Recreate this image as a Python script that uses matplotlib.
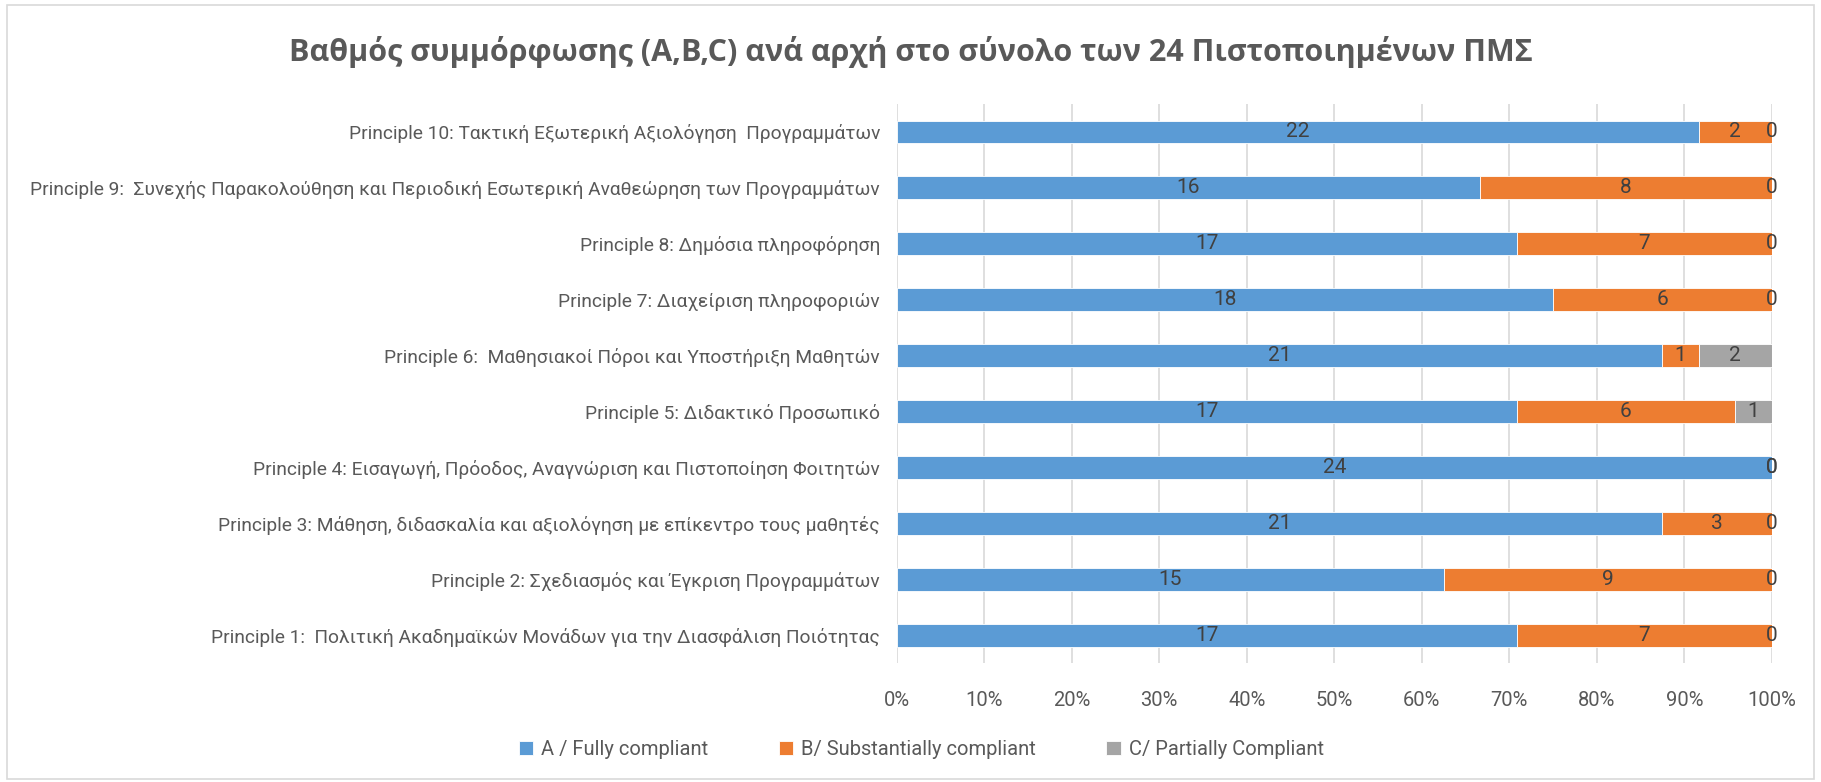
import matplotlib.pyplot as plt
from matplotlib.ticker import FuncFormatter
from matplotlib.patches import Rectangle

plt.rcParams['font.family'] = ['Roboto', 'Open Sans', 'DejaVu Sans']

# Data (bottom to top)
principles = [
    "Principle 1:  Πολιτική Ακαδημαϊκών Μονάδων για την Διασφάλιση Ποιότητας",
    "Principle 2: Σχεδιασμός και Έγκριση Προγραμμάτων",
    "Principle 3: Μάθηση, διδασκαλία και αξιολόγηση με επίκεντρο τους μαθητές",
    "Principle 4: Εισαγωγή, Πρόοδος, Αναγνώριση και Πιστοποίηση Φοιτητών",
    "Principle 5: Διδακτικό Προσωπικό",
    "Principle 6:  Μαθησιακοί Πόροι και Υποστήριξη Μαθητών",
    "Principle 7: Διαχείριση πληροφοριών",
    "Principle 8: Δημόσια πληροφόρηση",
    "Principle 9:  Συνεχής Παρακολούθηση και Περιοδική Εσωτερική Αναθεώρηση των Προγραμμάτων",
    "Principle 10: Τακτική Εξωτερική Αξιολόγηση  Προγραμμάτων",
]
fully = [17, 15, 21, 24, 17, 21, 18, 17, 16, 22]
substantially = [7, 9, 3, 0, 6, 1, 6, 7, 8, 2]
partially = [0, 0, 0, 0, 1, 2, 0, 0, 0, 0]

series = [
    ("A / Fully compliant", fully, "#5B9BD5"),
    ("B/ Substantially compliant", substantially, "#ED7D31"),
    ("C/ Partially Compliant", partially, "#A5A5A5"),
]
title = "Βαθμός συμμόρφωσης (A,B,C) ανά αρχή στο σύνολο των 24 Πιστοποιημένων ΠΜΣ"

text_color = "#595959"
label_color = "#404040"

fig = plt.figure(figsize=(18.21, 7.82), dpi=100)
fig.patches.append(Rectangle((0.004, 0.004), 0.992, 0.99, transform=fig.transFigure,
                             fill=False, edgecolor="#d9d9d9", linewidth=1.2))
ax = fig.add_axes([0.4924, 0.152, 0.4806, 0.715])

totals = [a + b + c for a, b, c in zip(fully, substantially, partially)]
ypos = list(range(len(principles)))
left = [0.0] * len(principles)
for name, vals, color in series:
    widths = [v / t for v, t in zip(vals, totals)]
    ax.barh(ypos, widths, left=left, height=0.41, color=color, label=name,
            edgecolor="white", linewidth=0.6, zorder=3)
    for y, l, w, v in zip(ypos, left, widths, vals):
        ax.text(l + w / 2, y, str(v), ha="center", va="center",
                fontsize=15, color=label_color, zorder=4)
    left = [l + w for l, w in zip(left, widths)]

ax.set_xlim(0, 1)
ax.set_ylim(-0.5, len(principles) - 0.5)
ax.set_xticks([i / 10 for i in range(11)])
ax.xaxis.set_major_formatter(FuncFormatter(lambda x, _: f"{x * 100:.0f}%"))
ax.set_yticks(ypos)
ax.set_yticklabels(principles)
ax.tick_params(axis="both", length=0, labelsize=14.5, colors=text_color)
ax.tick_params(axis="y", labelsize=13.8, pad=12)
ax.tick_params(axis="x", pad=20)
ax.grid(axis="x", color="#d9d9d9", linewidth=1.2, zorder=0)
for s in ax.spines.values():
    s.set_visible(False)

fig.text(0.5, 0.933, title, ha="center", va="center", fontsize=22,
         fontweight="bold", color=text_color, family=["Open Sans", "DejaVu Sans"])

fig.legend(loc="center", bbox_to_anchor=(0.506, 0.042), ncol=3, frameon=False,
           fontsize=14.5, labelcolor=text_color, handlelength=0.7, handleheight=0.7,
           columnspacing=3.5, handletextpad=0.4)

fig.savefig("out.png", dpi=100)
